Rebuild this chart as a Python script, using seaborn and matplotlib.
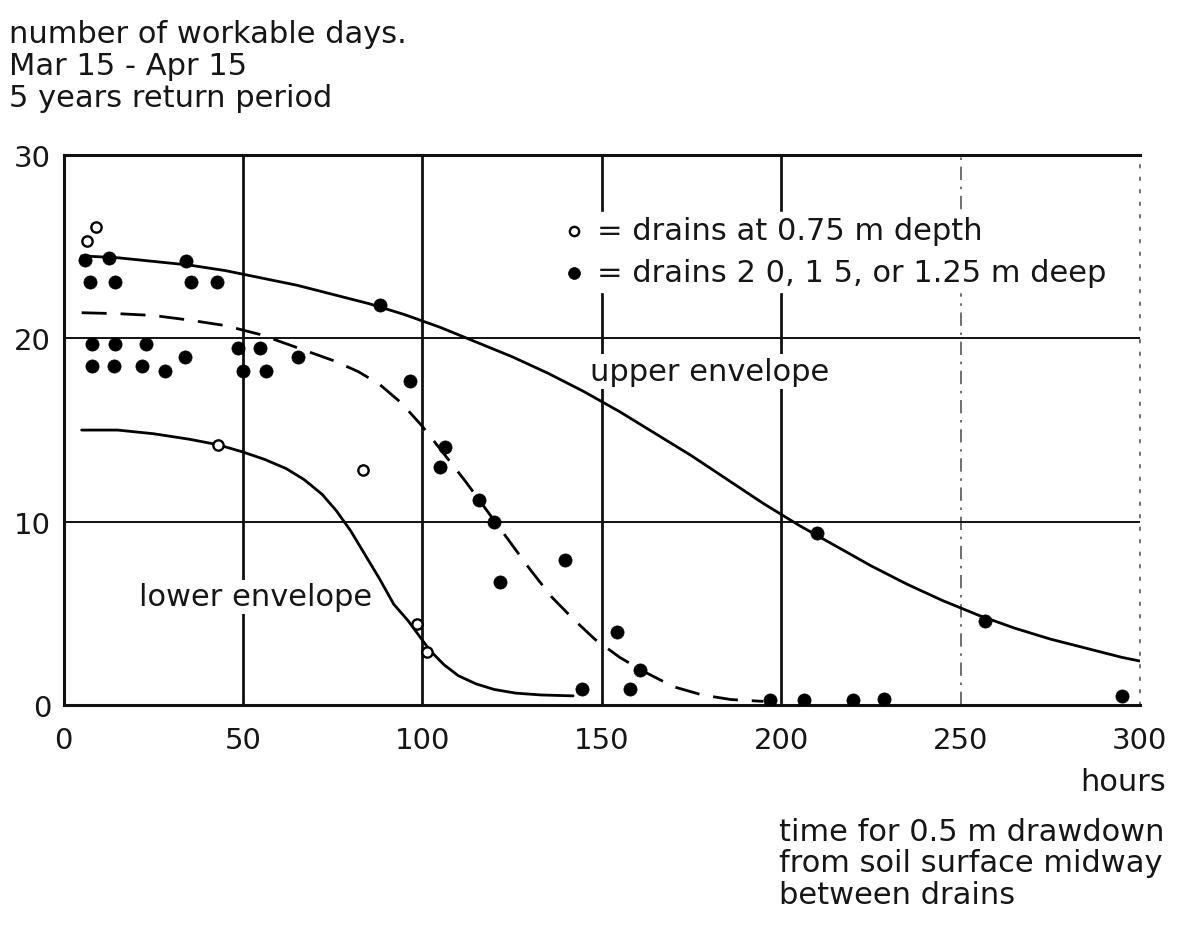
import matplotlib
matplotlib.use("Agg")
import matplotlib.pyplot as plt
import seaborn as sns
import pandas as pd

# Drawdown time (hours) vs workable days, drains at 0.75 m depth (open symbols)
open_x = [6.5, 9.0, 43.0, 83.3, 98.6, 101.4]
open_y = [25.3, 26.1, 14.2, 12.8, 4.4, 2.9]

# Drains 2.0, 1.5 or 1.25 m deep (filled symbols)
filled_x = [6.0, 12.7, 34.2, 88.1,
            7.4, 14.2, 35.6, 42.8,
            7.8, 14.4, 22.8, 33.9, 48.6, 54.7, 65.3,
            7.8, 13.9, 21.9, 28.3, 50.0, 56.4,
            96.4, 106.4, 105.0, 115.8, 120.0, 139.7, 121.7, 154.2, 160.6,
            144.4, 158.0, 197.0, 206.5, 220.0, 228.6, 210.0, 256.7, 295.0]
filled_y = [24.3, 24.4, 24.2, 21.8,
            23.1, 23.1, 23.1, 23.1,
            19.7, 19.7, 19.7, 19.0, 19.5, 19.5, 19.0,
            18.5, 18.5, 18.5, 18.2, 18.2, 18.2,
            17.7, 14.1, 13.0, 11.2, 10.0, 7.9, 6.7, 4.0, 1.9,
            0.9, 0.9, 0.3, 0.3, 0.3, 0.35, 9.4, 4.6, 0.5]

# Envelope curves
upper_x = [5, 15, 25, 35, 45, 55, 65, 75, 85, 95, 105, 115, 125, 135, 145,
           155, 165, 175, 185, 195, 205, 215, 225, 235, 245, 255, 265, 275,
           285, 295, 300]
upper_y = [24.5, 24.4, 24.2, 24.0, 23.7, 23.3, 22.9, 22.4, 21.9, 21.3, 20.6,
           19.8, 19.0, 18.1, 17.1, 16.0, 14.8, 13.6, 12.3, 11.0, 9.8, 8.7,
           7.6, 6.6, 5.7, 4.9, 4.2, 3.6, 3.1, 2.6, 2.4]

mid_x = [5, 15, 25, 35, 45, 55, 65, 75, 82, 88, 94, 100, 106, 112, 118, 124,
         130, 136, 142, 148, 155, 162, 170, 178, 186, 195]
mid_y = [21.4, 21.35, 21.25, 21.0, 20.7, 20.2, 19.5, 18.8, 18.2, 17.5, 16.5,
         15.2, 13.7, 12.2, 10.6, 9.0, 7.4, 5.9, 4.7, 3.6, 2.6, 1.8, 1.0,
         0.55, 0.3, 0.2]

lower_x = [5, 15, 25, 35, 43, 50, 56, 62, 67, 72, 76, 80, 84, 88, 92, 96,
           99, 102, 106, 110, 115, 120, 126, 133, 142]
lower_y = [15.0, 15.0, 14.8, 14.5, 14.2, 13.8, 13.4, 12.9, 12.3, 11.5, 10.6,
           9.5, 8.2, 6.9, 5.5, 4.6, 3.8, 3.0, 2.2, 1.6, 1.15, 0.85, 0.65,
           0.55, 0.5]

x_ticks = [0, 50, 100, 150, 200, 250, 300]
y_ticks = [0, 10, 20, 30]

sns.set_theme(style="white")
plt.rcParams["font.family"] = ["DejaVu Sans"]
FS = 22
TFS = 21
INK = "#161616"

fig = plt.figure(figsize=(11.8, 9.29), dpi=100)
ax = fig.add_axes([0.054, 0.240, 0.912, 0.592])

upper = pd.DataFrame({"x": upper_x, "y": upper_y})
mid = pd.DataFrame({"x": mid_x, "y": mid_y})
lower = pd.DataFrame({"x": lower_x, "y": lower_y})

sns.lineplot(data=upper, x="x", y="y", ax=ax, color="black", lw=2.0, zorder=3)
sns.lineplot(data=lower, x="x", y="y", ax=ax, color="black", lw=2.0, zorder=3)
ml = sns.lineplot(data=mid, x="x", y="y", ax=ax, color="black", lw=2.0, zorder=3)
ml.lines[-1].set_dashes((9, 5))

pts_f = pd.DataFrame({"x": filled_x, "y": filled_y})
pts_o = pd.DataFrame({"x": open_x, "y": open_y})
sns.scatterplot(data=pts_f, x="x", y="y", ax=ax, s=90, color="black",
                edgecolor="black", linewidth=0.5, zorder=5,
                label="= drains 2 0, 1 5, or 1.25 m deep")
sns.scatterplot(data=pts_o, x="x", y="y", ax=ax, s=55, facecolor="white",
                edgecolor="black", linewidth=1.7, zorder=5,
                label="= drains at 0.75 m depth")

ax.set_xlim(0, 300)
ax.set_ylim(0, 30)
ax.set_xticks(x_ticks)
ax.set_yticks(y_ticks)
ax.set_xticklabels([str(v) for v in x_ticks], fontsize=TFS)
ax.set_yticklabels([str(v) for v in y_ticks], fontsize=TFS)
ax.tick_params(axis="both", length=0, colors=INK)
ax.tick_params(axis="x", pad=15)
ax.tick_params(axis="y", pad=9)
ax.set_xlabel("")
ax.set_ylabel("")

# grid: solid lines, with dash-dot at 250 and dotted at 300
ax.grid(True, axis="both", color="#111111", lw=1.6)
ax.set_axisbelow(True)
for tick, gl in zip(x_ticks, ax.xaxis.get_gridlines()):
    if tick == 250:
        gl.set_linestyle((0, (8, 4, 1.5, 4)))
        gl.set_linewidth(1.2)
        gl.set_color("#555555")
    elif tick == 300:
        gl.set_linestyle((0, (1.5, 6)))
        gl.set_linewidth(1.2)
        gl.set_color("#666666")
    elif tick in (50, 100, 150, 200):
        gl.set_linewidth(2.0)
for tick, gl in zip(y_ticks, ax.yaxis.get_gridlines()):
    gl.set_linewidth(1.4)

for side in ("left", "bottom", "top"):
    ax.spines[side].set_color("#111111")
    ax.spines[side].set_linewidth(2.2)
ax.spines["right"].set_linestyle((0, (1.5, 6)))
ax.spines["right"].set_color("#666666")
ax.spines["right"].set_linewidth(1.2)

# legend, reversed so open symbols come first
h, l = ax.get_legend_handles_labels()
leg = ax.legend(h[::-1], l[::-1], loc="upper left", bbox_to_anchor=(0.44, 0.925),
                fontsize=FS, frameon=True, facecolor="white", edgecolor="white",
                framealpha=1.0, handletextpad=0.2, borderpad=0.15,
                labelspacing=0.42, handlelength=1.1, markerscale=0.9)
for t in leg.get_texts():
    t.set_color(INK)
leg.set_zorder(6)

box = dict(facecolor="white", edgecolor="none", pad=2)
ax.text(180, 18.2, "upper envelope", fontsize=FS, ha="center", va="center",
        color=INK, bbox=box, zorder=4)
ax.text(53.5, 5.9, "lower envelope", fontsize=FS, ha="center", va="center",
        color=INK, bbox=box, zorder=4)

fig.text(0.008, 0.979, "number of workable days.\nMar 15 - Apr 15\n5 years return period",
         fontsize=FS, ha="left", va="top", linespacing=1.14, color=INK)
fig.text(0.988, 0.158, "hours", fontsize=FS, ha="right", va="center", color=INK)
fig.text(0.660, 0.120, "time for 0.5 m drawdown\nfrom soil surface midway\nbetween drains",
         fontsize=FS, ha="left", va="top", linespacing=1.12, color=INK)

fig.savefig("out.png", dpi=100, facecolor="white")
